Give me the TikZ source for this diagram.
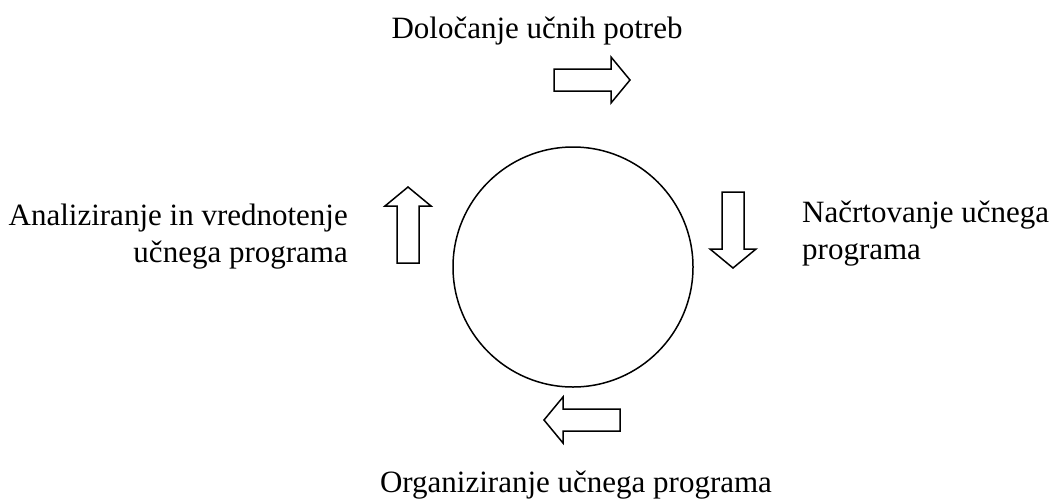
\documentclass[tikz,border=0pt]{standalone}
\usepackage{fontspec}
\setmainfont{Liberation Serif}
\begin{document}
\begin{tikzpicture}[x=1pt,y=-1pt,
	etiquette/.style={inner sep=0pt, font=\fontsize{31}{37}\selectfont},
	fleche/.pic={\draw[line width=1.5pt] (0,-11) -- (57,-11) -- (57,-23) -- (76,0) -- (57,23) -- (57,11) -- (0,11) -- cycle;}
]
	\useasboundingbox (0,0) rectangle (1051,501);
	%\draw[help lines] (0,0) grid[step=50] (1051,501);
	\node[draw, circle, line width=1.5pt, inner sep=0pt, minimum size=240pt] (krog) at (573,267) {};
	\pic at (554,80) {fleche};
	\pic[rotate=-90] at (733,192) {fleche};
	\pic[rotate=180] at (620,420) {fleche};
	\pic[rotate=90] at (408,263) {fleche};
	\path
		(537,38) node[etiquette,anchor=base] (potrebe) {Določanje učnih potreb}
		(802,259) node[etiquette,anchor=base west,align=left] (nacrt) {Načrtovanje učnega\\programa}
		(576,492) node[etiquette,anchor=base] (organ) {Organiziranje učnega programa}
		(348,262) node[etiquette,anchor=base east,align=right] (analiza) {Analiziranje in vrednotenje\\učnega programa}
	;
\end{tikzpicture}
\end{document}
